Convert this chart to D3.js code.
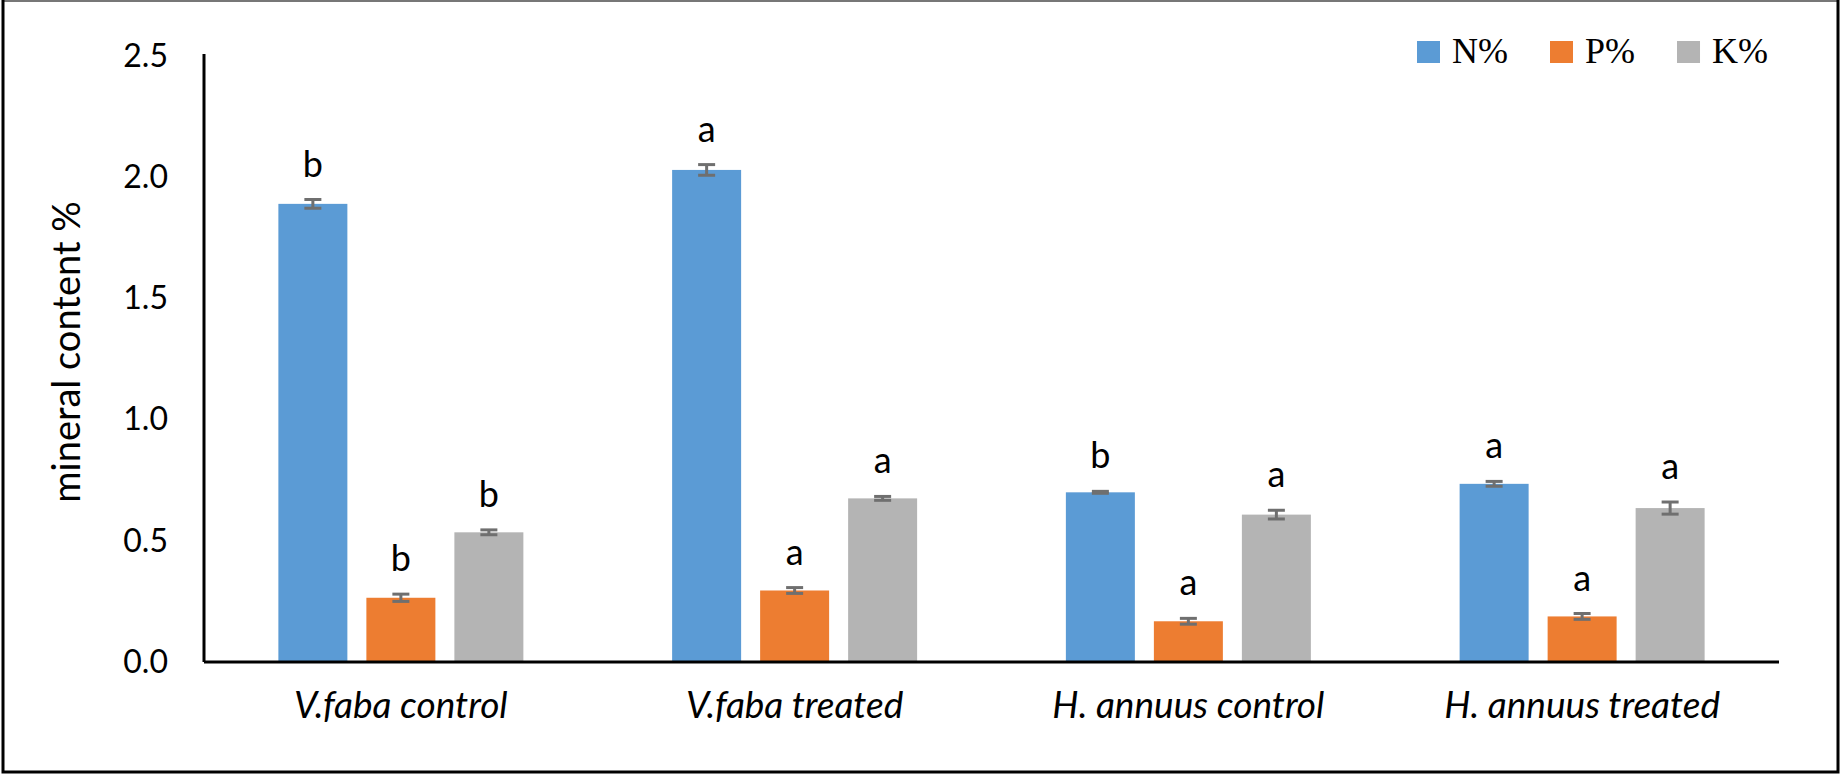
<!DOCTYPE html>
<html>
<head>
<meta charset="utf-8">
<script src="https://cdn.jsdelivr.net/npm/d3@7"></script>
<style>
  html, body { margin: 0; background: #fff; overflow: hidden; }
  svg { display: block; }
</style>
</head>
<body>
<svg id="chart"></svg>
<script>

// chart data
var groups = ["V.faba control", "V.faba treated", "H. annuus control", "H. annuus treated"];
var series = ["N%", "P%", "K%"];
var nValues = [1.89, 2.03, 0.70, 0.735];
var pValues = [0.265, 0.295, 0.168, 0.188];
var kValues = [0.535, 0.675, 0.608, 0.635];
var nErrors = [0.018, 0.022, 0.004, 0.01];
var pErrors = [0.015, 0.012, 0.012, 0.012];
var kErrors = [0.01, 0.008, 0.018, 0.025];
var nLetters = ["b", "a", "b", "a"];
var pLetters = ["b", "a", "a", "a"];
var kLetters = ["b", "a", "a", "a"];
var yTicks = [0, 0.5, 1.0, 1.5, 2.0, 2.5];
var colors = ["#5b9bd5", "#ed7d31", "#b4b4b4"];

var svgWidth = 1841;
var svgHeight = 775;
var margin = {top: 56, right: 62, bottom: 113, left: 204};

var svg = d3.select("#chart")
  .attr("width", svgWidth)
  .attr("height", svgHeight);

// outer frame
svg.append("line").attr("x1", 2).attr("x2", 1839).attr("y1", 1).attr("y2", 1)
  .attr("stroke", "#777").attr("stroke-width", 2);
svg.append("path")
  .attr("d", "M3,0 V772 H1838 V0")
  .attr("fill", "none").attr("stroke", "#000").attr("stroke-width", 3);

// scales
var yScale = d3.scaleLinear()
  .domain([0, 2.5])
  .range([svgHeight - margin.bottom, margin.top]);

var xScale = d3.scaleBand()
  .domain(groups)
  .range([margin.left, svgWidth - margin.right]);

var innerWidth = 245;
var xSub = d3.scaleBand()
  .domain(series)
  .range([(xScale.bandwidth() - innerWidth) / 2, (xScale.bandwidth() + innerWidth) / 2])
  .paddingInner(0.216);

// build rows from the arrays
var valueSets = [nValues, pValues, kValues];
var errorSets = [nErrors, pErrors, kErrors];
var letterSets = [nLetters, pLetters, kLetters];
var rows = [];
series.forEach(function(s, j) {
  groups.forEach(function(g, i) {
    rows.push({group: g, series: s, value: valueSets[j][i], err: errorSets[j][i],
               letter: letterSets[j][i], color: colors[j]});
  });
});

// bars
svg.selectAll(".rects")
  .data(rows)
  .enter()
  .append("rect")
  .attr("class", "rects")
  .attr("x", function(d) { return xScale(d.group) + xSub(d.series); })
  .attr("y", function(d) { return yScale(d.value); })
  .attr("width", xSub.bandwidth())
  .attr("height", function(d) { return yScale(0) - yScale(d.value); })
  .attr("fill", function(d) { return d.color; });

// error bars
var capHalf = 8.5;
var errG = svg.append("g").attr("stroke", "#6f6f6f").attr("stroke-width", 3);
rows.forEach(function(d) {
  var cx = xScale(d.group) + xSub(d.series) + xSub.bandwidth() / 2;
  var y1 = yScale(d.value + d.err), y2 = yScale(d.value - d.err);
  errG.append("line").attr("x1", cx).attr("x2", cx).attr("y1", y1).attr("y2", y2);
  errG.append("line").attr("x1", cx - capHalf).attr("x2", cx + capHalf).attr("y1", y1).attr("y2", y1);
  errG.append("line").attr("x1", cx - capHalf).attr("x2", cx + capHalf).attr("y1", y2).attr("y2", y2);
});

// significance letters
svg.selectAll(".letter")
  .data(rows)
  .enter()
  .append("text")
  .attr("class", "letter")
  .attr("x", function(d) { return xScale(d.group) + xSub(d.series) + xSub.bandwidth() / 2; })
  .attr("y", function(d) { return yScale(d.value + d.err) - 23; })
  .attr("text-anchor", "middle")
  .style("font-family", "Lato, 'Open Sans', sans-serif")
  .style("font-size", "36px")
  .text(function(d) { return d.letter; });

// y axis
var yAxis = svg.append("g")
  .attr("transform", "translate(" + margin.left + ",0)")
  .call(d3.axisLeft(yScale).tickValues(yTicks).tickSize(0).tickPadding(36).tickFormat(d3.format(".1f")));
yAxis.select(".domain").attr("stroke", "#000").attr("stroke-width", 3)
  .attr("d", "M0," + (yScale(2.5) - 2) + "V" + yScale(0));
yAxis.selectAll("text")
  .style("font-family", "Lato, 'Open Sans', sans-serif")
  .style("font-size", "32px")
  .attr("fill", "#000");

// x axis
var xAxis = svg.append("g")
  .attr("transform", "translate(0," + yScale(0) + ")")
  .call(d3.axisBottom(xScale).tickSize(0).tickPadding(30));
xAxis.select(".domain").attr("stroke", "#000").attr("stroke-width", 3)
  .attr("d", "M" + margin.left + ",0H" + (svgWidth - margin.right));
xAxis.selectAll("text")
  .style("font-family", "Lato, 'Open Sans', sans-serif")
  .style("font-size", "37px")
  .style("font-style", "italic")
  .attr("fill", "#000");

// y axis title
svg.append("text")
  .attr("transform", "translate(80,352) rotate(-90)")
  .attr("text-anchor", "middle")
  .style("font-family", "Lato, 'Open Sans', sans-serif")
  .style("font-size", "38px")
  .text("mineral content %");

// legend
var legendX = 1417;
var legend = svg.append("g").attr("transform", "translate(" + legendX + ",41)");
var offset = 0;
series.forEach(function(s, j) {
  var item = legend.append("g").attr("transform", "translate(" + offset + ",0)");
  item.append("rect").attr("width", 23).attr("height", 22).attr("fill", colors[j]);
  var t = item.append("text")
    .attr("x", 35).attr("y", 22)
    .style("font-family", "'Liberation Serif', 'Times New Roman', serif")
    .style("font-size", "36px")
    .text(s);
  offset += 35 + t.node().getComputedTextLength() + 42;
});

</script>
</body>
</html>
